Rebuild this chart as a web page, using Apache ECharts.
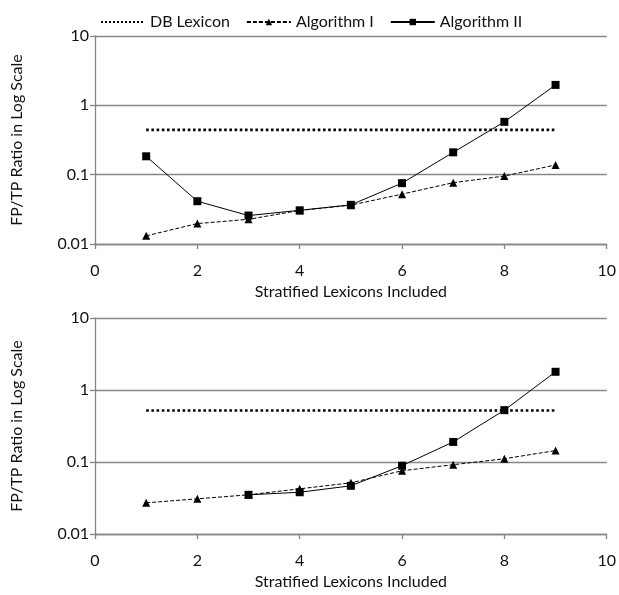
<!DOCTYPE html>
<html>
<head>
<meta charset="utf-8">
<script src="https://cdn.jsdelivr.net/npm/echarts@6/dist/echarts.min.js"></script>
<style>html,body{margin:0;padding:0;background:#fff;}#c{width:619px;height:595px;}</style>
</head>
<body>
<div id="c"></div>
<script>
// Data
const xValues = [1, 2, 3, 4, 5, 6, 7, 8, 9];
const xTicks = [0, 2, 4, 6, 8, 10];
const yTicks = [0.01, 0.1, 1, 10];
const seriesNames = ['DB Lexicon', 'Algorithm I', 'Algorithm II'];

// Top panel
const dbTop = [0.443, 0.443, 0.443, 0.443, 0.443, 0.443, 0.443, 0.443, 0.443];
const algITop = [0.0131, 0.0197, 0.0227, 0.0305, 0.0363, 0.0524, 0.0766, 0.0955, 0.138];
const algIITop = [0.184, 0.0414, 0.0257, 0.0306, 0.0367, 0.0755, 0.210, 0.578, 1.97];

// Bottom panel
const dbBot = [0.52, 0.52, 0.52, 0.52, 0.52, 0.52, 0.52, 0.52, 0.52];
const algIBot = [0.0271, 0.0308, 0.035, 0.0424, 0.0514, 0.0756, 0.0917, 0.111, 0.144];
const algIIBot = [null, null, 0.035, 0.038, 0.0467, 0.0888, 0.19, 0.525, 1.79];

const FONT = 'Lato';
const FS = 16;
const TXT = '#111';
const GRAY = '#868686';

function pairs(vals) {
  return xValues.map((x, i) => vals[i] == null ? null : [x, vals[i]]).filter(p => p);
}

function xAxis(gridIndex) {
  return {
    type: 'value', gridIndex, min: xTicks[0], max: xTicks[xTicks.length - 1], interval: 2,
    name: 'Stratified Lexicons Included', nameLocation: 'middle', nameGap: 40,
    nameTextStyle: { fontFamily: FONT, fontSize: FS, color: TXT },
    axisLine: { show: true, lineStyle: { color: GRAY, width: 1.3 } },
    axisTick: { show: true, inside: false, length: 5, lineStyle: { color: GRAY, width: 1.3 } },
    axisLabel: { fontFamily: FONT, fontSize: FS, color: TXT, margin: 19 },
    splitLine: { show: false }
  };
}
function yAxis(gridIndex) {
  return {
    type: 'log', logBase: 10, gridIndex, min: yTicks[0], max: yTicks[yTicks.length - 1],
    name: 'FP/TP Ratio in Log Scale', nameLocation: 'middle', nameGap: 70, nameRotate: 90,
    nameTextStyle: { fontFamily: FONT, fontSize: FS, color: TXT },
    axisLine: { show: true, onZero: false, lineStyle: { color: GRAY, width: 1.3 } },
    axisTick: { show: true, length: 5, lineStyle: { color: GRAY, width: 1.3 } },
    axisLabel: { fontFamily: FONT, fontSize: FS, color: TXT, margin: 6,
      formatter: v => String(Number(Number(v).toPrecision(2))) },
    splitLine: { show: true, lineStyle: { color: GRAY, width: 1.3 } },
    minorTick: { show: false }
  };
}

function seriesFor(idx, db, a1, a2) {
  return [
    { name: seriesNames[0], type: 'line', xAxisIndex: idx, yAxisIndex: idx, data: pairs(db),
      symbol: 'circle', symbolSize: 0, showSymbol: false,
      lineStyle: { color: '#000', width: 2.6, type: 'dotted' }, itemStyle: { color: '#000' },
      silent: true, animation: false },
    { name: seriesNames[1], type: 'line', xAxisIndex: idx, yAxisIndex: idx, data: pairs(a1),
      symbol: 'triangle', symbolSize: 8, lineStyle: { color: '#000', width: 1, type: [4, 2] },
      itemStyle: { color: '#000' }, animation: false },
    { name: seriesNames[2], type: 'line', xAxisIndex: idx, yAxisIndex: idx, data: pairs(a2),
      symbol: 'rect', symbolSize: 8, lineStyle: { color: '#000', width: 1, type: 'solid' },
      itemStyle: { color: '#000' }, animation: false }
  ];
}

const chart = echarts.init(document.getElementById('c'), null, { renderer: 'canvas' });
chart.setOption({
  backgroundColor: '#fff',
  animation: false,
  legend: {
    data: [
      { name: seriesNames[0], itemStyle: { opacity: 0 } },
      { name: seriesNames[1] },
      { name: seriesNames[2] }
    ],
    left: 95, top: 9, itemWidth: 44, itemHeight: 8, itemGap: 16,
    textStyle: { fontFamily: FONT, fontSize: FS, color: TXT }
  },
  grid: [
    { left: 95, right: 12, top: 36, height: 208 },
    { left: 95, right: 12, top: 318, height: 216 }
  ],
  xAxis: [xAxis(0), xAxis(1)],
  yAxis: [yAxis(0), yAxis(1)],
  series: [...seriesFor(0, dbTop, algITop, algIITop), ...seriesFor(1, dbBot, algIBot, algIIBot)]
});
</script>
</body>
</html>
